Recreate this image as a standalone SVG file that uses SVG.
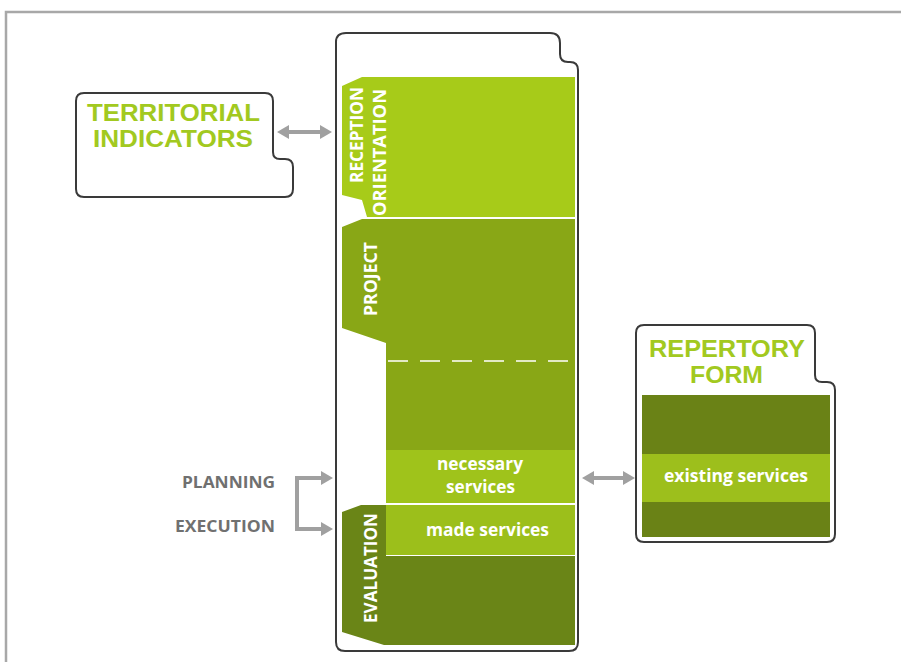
<svg xmlns="http://www.w3.org/2000/svg" width="901" height="662" viewBox="0 0 901 662">
<defs>
<style>
.frame{fill:none;stroke:#a8a8a8;stroke-width:2.5}
.box{fill:#fff;stroke:#3a3a3a;stroke-width:2}
.title{font-family:"Liberation Sans","Open Sans",sans-serif;font-weight:bold;font-size:23px;fill:#a2c920;text-anchor:start}
.tab{font-family:"Open Sans","Liberation Sans",sans-serif;font-weight:bold;font-size:17px;fill:#fff}
.band{font-family:"Open Sans","Liberation Sans",sans-serif;font-weight:bold;font-size:17px;fill:#fff}
.gray{font-family:"Open Sans","Liberation Sans",sans-serif;font-weight:bold;font-size:16px;fill:#707070}
.conn{fill:none;stroke:#a0a0a0;stroke-width:4}
</style>
<marker id="ah" viewBox="0 0 12 14" markerUnits="userSpaceOnUse" markerWidth="12" markerHeight="14" refX="2" refY="7" orient="auto-start-reverse">
<path d="M0,0 L12,7 L0,14 Z" fill="#a0a0a0"/>
</marker>
</defs>
<rect width="901" height="662" fill="#fff"/>
<path class="frame" d="M6,662 V12 H901"/>

<g id="territorial">
<path class="box" d="M84,93 H265 Q273,93 273,101 V152 Q273,159 280,159 H285 Q293,159 293,167 V189 Q293,197 285,197 H84 Q76,197 76,189 V101 Q76,93 84,93 Z"/>
<text class="title" x="87" y="121" textLength="173" lengthAdjust="spacingAndGlyphs">TERRITORIAL</text>
<text class="title" x="93" y="147" textLength="160" lengthAdjust="spacingAndGlyphs">INDICATORS</text>
</g>

<g id="main">
<path class="box" d="M346,33 H550 Q560,33 560,43 V54 Q560,62 568,62 H570 Q578,62 578,70 V642 Q578,651 569,651 H345 Q336,651 336,642 V42 Q336,33 346,33 Z"/>
</g>

<g id="reception">
<polygon points="342,86 362,77 575,77 575,217 367,217 362,200 342,195" fill="#a7cb19"/>
<text class="tab" transform="translate(363,183) rotate(-90)" textLength="96" lengthAdjust="spacingAndGlyphs">RECEPTION</text>
<text class="tab" transform="translate(386,216) rotate(-90)" textLength="127" lengthAdjust="spacingAndGlyphs">ORIENTATION</text>
</g>

<g id="project">
<polygon points="342,227 362,219 575,219 575,450 386,450 386,343 342,328" fill="#89a716"/>
<line x1="388" y1="361" x2="575" y2="361" stroke="#fff" stroke-width="1.5" stroke-dasharray="20 12"/>
<text class="tab" transform="translate(377,316) rotate(-90)" textLength="74" lengthAdjust="spacingAndGlyphs">PROJECT</text>
</g>

<g id="necessary">
<rect x="386" y="450" width="189" height="53" fill="#9fc31b"/>
<text class="band" x="437" y="470" textLength="86" lengthAdjust="spacingAndGlyphs">necessary</text>
<text class="band" x="446" y="493" textLength="69" lengthAdjust="spacingAndGlyphs">services</text>
</g>

<g id="evaluation">
<polygon points="342,512 361,505 386,505 386,556 575,556 575,645 384,645 342,632" fill="#6a8517"/>
<text class="tab" transform="translate(377,623) rotate(-90)" textLength="110" lengthAdjust="spacingAndGlyphs">EVALUATION</text>
</g>

<g id="made">
<rect x="386" y="505" width="189" height="50" fill="#9cbf1b"/>
<text class="band" x="426" y="536" textLength="123" lengthAdjust="spacingAndGlyphs">made services</text>
</g>

<g id="repertory">
<path class="box" d="M644,325 H807 Q815,325 815,333 V375 Q815,382 822,382 H827 Q835,382 835,390 V534 Q835,542 827,542 H644 Q636,542 636,534 V333 Q636,325 644,325 Z"/>
<text class="title" x="649" y="357" textLength="156" lengthAdjust="spacingAndGlyphs">REPERTORY</text>
<text class="title" x="690" y="383" textLength="73" lengthAdjust="spacingAndGlyphs">FORM</text>
<rect x="642" y="395" width="188" height="142" fill="#6a8216"/>
<rect x="642" y="454" width="188" height="48" fill="#9dbf1c"/>
<text class="band" x="664" y="482" textLength="144" lengthAdjust="spacingAndGlyphs">existing services</text>
</g>

<g id="labels">
<text class="gray" x="182" y="488" textLength="93" lengthAdjust="spacingAndGlyphs">PLANNING</text>
<text class="gray" x="175" y="532" textLength="100" lengthAdjust="spacingAndGlyphs">EXECUTION</text>
</g>

<g id="connectors">
<line class="conn" x1="287" y1="132" x2="322" y2="132" marker-start="url(#ah)" marker-end="url(#ah)"/>
<line class="conn" x1="592" y1="478" x2="625" y2="478" marker-start="url(#ah)" marker-end="url(#ah)"/>
<path class="conn" d="M323,478 H297 V529 H323" stroke-width="5" marker-start="url(#ah)" marker-end="url(#ah)"/>
</g>
</svg>
